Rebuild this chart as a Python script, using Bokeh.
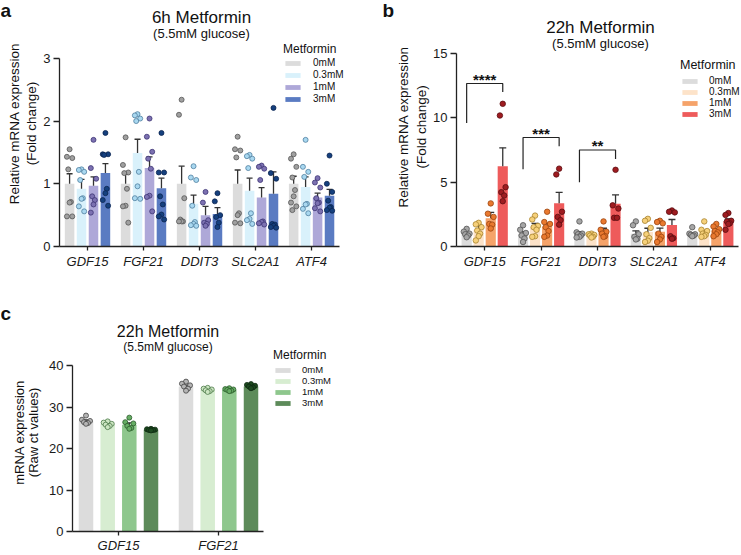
import numpy as np
from bokeh.plotting import figure
from bokeh.models import Range1d, FixedTicker, Label, Legend, LegendItem
from bokeh.core.properties import value
from bokeh.layouts import column, row
from bokeh.embed import file_html
from bokeh.resources import INLINE

FONT = "Liberation Sans"

doses = ["0mM", "0.3mM", "1mM", "3mM"]
genes_ab = ["GDF15", "FGF21", "DDIT3", "SLC2A1", "ATF4"]
genes_c = ["GDF15", "FGF21"]

# ---- panel a: 6h metformin, fold change (rows = dose, columns = gene) ----
a_mean = [
    [1.00, 1.00, 1.00, 1.00, 1.00],
    [0.92, 1.49, 0.68, 0.89, 0.95],
    [0.97, 1.25, 0.50, 0.78, 0.78],
    [1.17, 0.93, 0.52, 0.84, 0.81],
]
a_sem = [
    [0.16, 0.15, 0.28, 0.22, 0.12],
    [0.15, 0.22, 0.14, 0.20, 0.16],
    [0.14, 0.18, 0.14, 0.16, 0.07],
    [0.15, 0.16, 0.10, 0.35, 0.10],
]
a_pts_0mM = [
    [1.55, 1.43, 1.41, 1.23, 0.71, 0.70, 0.48, 0.48],
    [1.74, 1.30, 1.18, 1.17, 0.92, 0.65, 0.64, 0.38],
    [2.34, 2.10, 0.77, 0.43, 0.40, 0.40, 0.40],
    [1.75, 1.55, 1.53, 1.42, 0.53, 0.50, 0.38, 0.37],
    [1.47, 1.40, 1.27, 1.10, 0.90, 0.80, 0.70, 0.64, 0.58],
]
a_pts_03mM = [
    [1.23, 1.22, 1.19, 1.06, 0.77, 0.76, 0.64, 0.56],
    [2.11, 2.09, 2.04, 2.00, 1.19, 0.96, 0.77, 0.76],
    [1.28, 1.10, 1.06, 0.65, 0.39, 0.36, 0.34, 0.33],
    [1.46, 1.44, 1.40, 1.25, 0.53, 0.44, 0.42, 0.36],
    [1.70, 1.27, 1.19, 1.11, 0.68, 0.67, 0.60, 0.53],
]
a_pts_1mM = [
    [1.70, 1.25, 1.08, 0.80, 0.74, 0.67, 0.54],
    [2.04, 1.75, 1.51, 1.40, 1.24, 0.81, 0.79, 0.56],
    [0.87, 0.70, 0.42, 0.38, 0.36, 0.33],
    [1.29, 1.27, 1.24, 1.06, 0.40, 0.39, 0.37, 0.35],
    [1.09, 1.02, 0.94, 0.77, 0.70, 0.69, 0.61, 0.56],
]
a_pts_3mM = [
    [1.81, 1.47, 1.47, 1.46, 0.92, 0.85, 0.74, 0.65],
    [1.81, 1.18, 1.18, 0.80, 0.67, 0.51, 0.48, 0.43],
    [0.85, 0.72, 0.50, 0.47, 0.38, 0.31],
    [2.21, 1.17, 1.08, 0.36, 0.35, 0.33, 0.31, 0.30],
    [1.45, 1.00, 0.87, 0.73, 0.63, 0.62, 0.58, 0.57],
]

# ---- panel b: 22h metformin, fold change ----
b_mean = [
    [1.00, 1.00, 1.00, 1.00, 1.00],
    [1.30, 1.50, 0.86, 1.12, 1.13],
    [2.20, 1.55, 1.25, 1.15, 1.24],
    [6.24, 3.37, 3.32, 1.68, 1.97],
]
b_sem = [
    [0.10, 0.15, 0.15, 0.22, 0.08],
    [0.35, 0.30, 0.10, 0.30, 0.12],
    [0.45, 0.25, 0.17, 0.28, 0.15],
    [1.43, 0.83, 0.69, 0.42, 0.18],
]
b_pts_0mM = [
    [1.37, 1.15, 1.00, 0.95, 0.85, 0.72],
    [1.65, 1.30, 1.05, 0.85, 0.62, 0.35],
    [1.95, 1.10, 1.00, 0.95, 0.85, 0.75, 0.70],
    [1.95, 1.65, 0.95, 0.75, 0.60, 0.55],
    [1.50, 1.00, 0.95, 0.90, 0.85, 0.80],
]
b_pts_03mM = [
    [1.84, 1.72, 1.50, 1.24, 1.00, 0.80, 0.47],
    [2.40, 2.10, 1.60, 1.50, 1.30, 0.80, 0.75],
    [1.00, 0.95, 0.90, 0.85, 0.75, 0.70],
    [2.15, 2.00, 1.45, 0.95, 0.65, 0.45, 0.35],
    [1.95, 1.30, 1.20, 1.00, 0.90, 0.80, 0.75],
]
b_pts_1mM = [
    [3.35, 2.55, 2.30, 1.75, 1.70, 1.40],
    [2.70, 1.90, 1.75, 1.50, 1.20, 0.85, 0.75],
    [1.95, 1.30, 1.15, 1.00, 0.80, 0.75],
    [2.00, 1.90, 1.80, 1.00, 0.75, 0.55, 0.35],
    [1.75, 1.55, 1.35, 1.20, 1.10, 0.95, 0.80],
]
b_pts_3mM = [
    [11.09, 10.18, 4.61, 4.22, 3.96, 3.52],
    [6.05, 5.60, 2.70, 2.30, 2.05, 1.70],
    [5.96, 3.20, 2.95, 2.23, 2.23],
    [2.80, 2.70, 2.65, 0.80, 0.65, 0.60],
    [2.60, 2.45, 2.00, 1.95, 1.80, 1.75, 1.30],
]
# significance comparisons 0mM vs 3mM (gene index, stars)
b_sig_gene = [0, 1, 2]
b_sig_text = ["****", "***", "**"]

# ---- panel c: 22h metformin, raw ct values ----
c_mean = [[26.6, 35.0], [25.9, 34.2], [25.8, 34.2], [24.6, 35.0]]
c_sem = [[0.35, 0.35], [0.20, 0.15], [0.45, 0.15], [0.08, 0.15]]
c_pts_0mM = [[28.0, 27.0, 26.7, 26.4, 26.2, 26.0], [36.2, 35.7, 35.3, 35.0, 34.5, 34.0]]
c_pts_03mM = [[26.6, 26.3, 26.0, 25.8, 25.5, 25.2], [34.7, 34.5, 34.3, 34.1, 33.9, 33.7]]
c_pts_1mM = [[27.5, 26.4, 26.1, 25.5, 25.0, 24.8], [34.6, 34.4, 34.3, 34.2, 34.0, 33.9]]
c_pts_3mM = [[24.8, 24.7, 24.6, 24.5, 24.5, 24.4], [35.6, 35.4, 35.2, 35.0, 34.8, 34.6]]

ERR_COLOR = "#333333"


def spread_offsets(vals, spread):
    """Deterministic side-by-side placement of dots within a bar."""
    order = np.argsort(-np.asarray(vals), kind="stable")
    pattern = [0.0, -1.0, 1.0, -0.5, 0.5]
    off = np.zeros(len(vals))
    for rank, idx in enumerate(order):
        off[idx] = pattern[rank % len(pattern)] * spread
    return off


def build_panel(width, height, left, bottom, yrange, ybounds, yticks, xrange, xbounds,
                genes, means, sems, points, bar_colors, pt_fill, pt_line, offsets,
                bar_w, pt_size, cap_size):
    p = figure(width=width, height=height, title=None,
               x_range=Range1d(*xrange), y_range=Range1d(*yrange),
               output_backend="svg", toolbar_location=None,
               min_border_left=left, min_border_right=0,
               min_border_top=0, min_border_bottom=bottom)
    p.xgrid.visible = False
    p.ygrid.visible = False
    p.outline_line_color = None
    p.background_fill_color = "white"
    p.border_fill_color = "white"

    bars = []
    for d in range(4):
        xs = [g + offsets[d] for g in range(len(genes))]
        r = p.vbar(x=xs, top=means[d], bottom=0, width=bar_w,
                   fill_color=bar_colors[d], line_color=None)
        bars.append(r)
    for d in range(4):
        xs = [g + offsets[d] for g in range(len(genes))]
        tops = [m + s for m, s in zip(means[d], sems[d])]
        p.segment(x0=xs, y0=means[d], x1=xs, y1=tops, line_color=ERR_COLOR, line_width=1.3)
        p.scatter(x=xs, y=tops, marker="dash", size=cap_size,
                  line_color=ERR_COLOR, line_width=1.3)
    for d in range(4):
        px, py = [], []
        for g, vals in enumerate(points[d]):
            jit = spread_offsets(vals, bar_w * 0.28)
            px += list(g + offsets[d] + jit)
            py += list(vals)
        p.scatter(x=px, y=py, size=pt_size, fill_color=pt_fill[d],
                  line_color=pt_line[d], line_width=0.8)

    for ax in (p.xaxis[0], p.yaxis[0]):
        ax.axis_line_color = "#222222"
        ax.axis_line_width = 1.3
        ax.major_tick_line_color = "#222222"
        ax.major_tick_line_width = 1.3
        ax.minor_tick_line_color = None
        ax.major_tick_in = 0
        ax.major_label_text_font = FONT
        ax.major_label_text_color = "#1a1a1a"
    p.yaxis.bounds = ybounds
    p.yaxis.ticker = FixedTicker(ticks=yticks)
    p.yaxis.major_tick_out = 6
    p.yaxis.major_label_standoff = 3
    p.yaxis.major_label_text_font_size = "13px"
    p.xaxis.bounds = xbounds
    p.xaxis.ticker = FixedTicker(ticks=list(range(len(genes))))
    p.xaxis.major_label_overrides = {i: g for i, g in enumerate(genes)}
    p.xaxis.major_tick_out = 4
    p.xaxis.major_label_standoff = 3
    p.xaxis.major_label_text_font_style = "italic"
    p.xaxis.major_label_text_font_size = "13px"
    return p, bars


def put_text(p, frame, x, y, text, size, bold=False, align="center", angle=0.0):
    """Text placed by page pixel position; frame = (frame left, frame bottom) on the page."""
    left, bottom = frame
    p.add_layout(Label(x=x - left, y=bottom - y, x_units="screen", y_units="screen",
                       text=text, text_font=FONT, text_font_size=f"{size}px",
                       text_font_style="bold" if bold else "normal",
                       text_color="#111111", text_align=align,
                       text_baseline="middle", angle=angle))


def side_strip(width, height, origin, texts):
    """Narrow blank figure carrying the panel letter and the y-axis title."""
    ox, oy = origin
    s = figure(width=width, height=height, title=None,
               x_range=Range1d(0, width), y_range=Range1d(0, height),
               x_axis_type=None, y_axis_type=None,
               output_backend="svg", toolbar_location=None,
               min_border_left=0, min_border_right=0, min_border_top=0, min_border_bottom=0)
    s.xgrid.visible = False
    s.ygrid.visible = False
    s.outline_line_color = None
    s.background_fill_color = "white"
    s.border_fill_color = "white"
    for x, y, text, size, bold, align, angle in texts:
        s.add_layout(Label(x=x - ox, y=height - (y - oy), text=text, text_font=FONT,
                           text_font_size=f"{size}px",
                           text_font_style="bold" if bold else "normal",
                           text_color="#111111", text_align=align,
                           text_baseline="middle", angle=angle))
    return s


def add_legend(p, bars, loc, label_size, title_size, standoff, spacing, label_standoff=11):
    items = [LegendItem(label=value(d), renderers=[r]) for d, r in zip(doses, bars)]
    lg = Legend(items=items, title="Metformin", location=loc)
    lg.title_text_font = FONT
    lg.title_text_font_size = f"{title_size}px"
    lg.title_text_font_style = "normal"
    lg.title_text_color = "#111111"
    lg.title_standoff = standoff
    lg.label_text_font = FONT
    lg.label_text_font_size = f"{label_size}px"
    lg.label_text_color = "#111111"
    lg.label_standoff = label_standoff
    lg.label_height = 10
    lg.glyph_width = 19
    lg.glyph_height = 6
    lg.spacing = spacing
    lg.padding = 0
    lg.margin = 0
    lg.border_line_color = None
    lg.background_fill_color = None
    lg.background_fill_alpha = 0
    p.add_layout(lg)


offs_ab = [-0.32, -0.107, 0.107, 0.32]
offs_c = [-0.325, -0.108, 0.108, 0.325]
HALF_PI = np.pi / 2

# ---------------- panel a ----------------
# frame on the page: x 58..370, y 0..251 ; 56.2 px per gene, 64 px per unit
fa = (58, 251)
pa, bars_a = build_panel(
    330, 290, 18, 39, (0, 251 / 64), (0, 3), [0, 1, 2, 3],
    (-0.5, -0.5 + 312 / 56.2), (-0.5, 4.5), genes_ab, a_mean, a_sem,
    [a_pts_0mM, a_pts_03mM, a_pts_1mM, a_pts_3mM],
    ["#dcdcdc", "#d9f1fb", "#aea8d8", "#5a7bc2"],
    ["#a0a0a0", "#a9d8f0", "#7c71b1", "#15407e"],
    ["#555555", "#4f7f9f", "#3d3575", "#0b2550"],
    offs_ab, 0.17, 5, 6)
put_text(pa, fa, 200, 22, "6h Metformin", 17)
put_text(pa, fa, 200, 38, "(5.5mM glucose)", 13)
add_legend(pa, bars_a, (224, 142), 10, 12, 1, 1)
sa = side_strip(40, 290, (0, 0), [
    (0, 12, "a", 19, True, "left", 0.0),
    (14, 145, "Relative mRNA expression", 13.5, False, "center", HALF_PI),
    (31, 145, "(Fold change)", 13.5, False, "center", HALF_PI),
])

# ---------------- panel b ----------------
# frame on the page: x 456..741, y 0..246 ; 56.4 px per gene, 12.867 px per unit
fb = (456, 246)
pb, bars_b = build_panel(
    311, 290, 26, 44, (0, 246 / 12.867), (0, 15), [0, 5, 10, 15],
    (-0.5, -0.5 + 285 / 56.4), (-0.5, 4.5), genes_ab, b_mean, b_sem,
    [b_pts_0mM, b_pts_03mM, b_pts_1mM, b_pts_3mM],
    ["#dcdcdc", "#fde3c9", "#f5a36a", "#ee5b5b"],
    ["#a6a6a6", "#f6d07a", "#e9792f", "#9e1c20"],
    ["#555555", "#a88430", "#9c4510", "#5c0c10"],
    offs_ab, 0.18, 5.5, 7)
put_text(pb, fb, 600, 27, "22h Metformin", 17)
put_text(pb, fb, 600, 43, "(5.5mM glucose)", 13)
add_legend(pb, bars_b, (224, 127), 10, 12.5, 3, 0, label_standoff=10)
sb = side_strip(60, 290, (370, 0), [
    (382, 12, "b", 19, True, "left", 0.0),
    (403, 149, "Relative mRNA expression", 13.5, False, "center", HALF_PI),
    (421, 149, "(Fold change)", 13.5, False, "center", HALF_PI),
])

# significance brackets between 0mM and 3mM bars
bracket_top = [12.67, 8.47, 7.5]
bracket_left = [9.6, 6.0, 5.0]
bracket_right = [12.0, 7.8, 6.8]
for g, txt, t, l, r in zip(b_sig_gene, b_sig_text, bracket_top, bracket_left, bracket_right):
    x0, x1 = g + offs_ab[0], g + offs_ab[3]
    pb.line(x=[x0, x0, x1, x1], y=[l, t, t, r], line_color="#222222", line_width=1.2)
    pb.add_layout(Label(x=g, y=t, text=txt, text_font=FONT, text_font_size="15px",
                        text_font_style="bold", text_color="#111111",
                        text_align="center", text_baseline="middle", y_offset=4))

# ---------------- panel c ----------------
# frame on the page: x 72..370, y 290..533 ; 100 px per gene, 4.175 px per unit
fc = (72, 533)
pc, bars_c = build_panel(
    324, 265, 26, 22, (0, 243 / 4.175), (0, 40), [0, 10, 20, 30, 40],
    (-0.46, -0.46 + 298 / 100), (-0.46, 1.45), genes_c, c_mean, c_sem,
    [c_pts_0mM, c_pts_03mM, c_pts_1mM, c_pts_3mM],
    ["#dcdcdc", "#d7edd1", "#8ec78d", "#5d8b5a"],
    ["#b5b5b5", "#cce6c2", "#66ad64", "#1d4a20"],
    ["#444444", "#4d7a4a", "#2b5c2b", "#0e2a10"],
    offs_c, 0.145, 5, 5)
pc.xaxis.major_label_standoff = 2
put_text(pc, fc, 167.5, 333, "22h Metformin", 16)
put_text(pc, fc, 167.5, 348, "(5.5mM glucose)", 12)
add_legend(pc, bars_c, (201, 123), 9.5, 12, 2, 0, label_standoff=10)
sc = side_strip(46, 265, (0, 290), [
    (0, 315, "c", 19, True, "left", 0.0),
    (19, 446, "mRNA expression", 13, False, "center", HALF_PI),
    (33, 446, "(Raw ct values)", 13, False, "center", HALF_PI),
])

layout = column(row(sa, pa, sb, pb), row(sc, pc))
open("out.html", "w").write(file_html(layout, INLINE))
